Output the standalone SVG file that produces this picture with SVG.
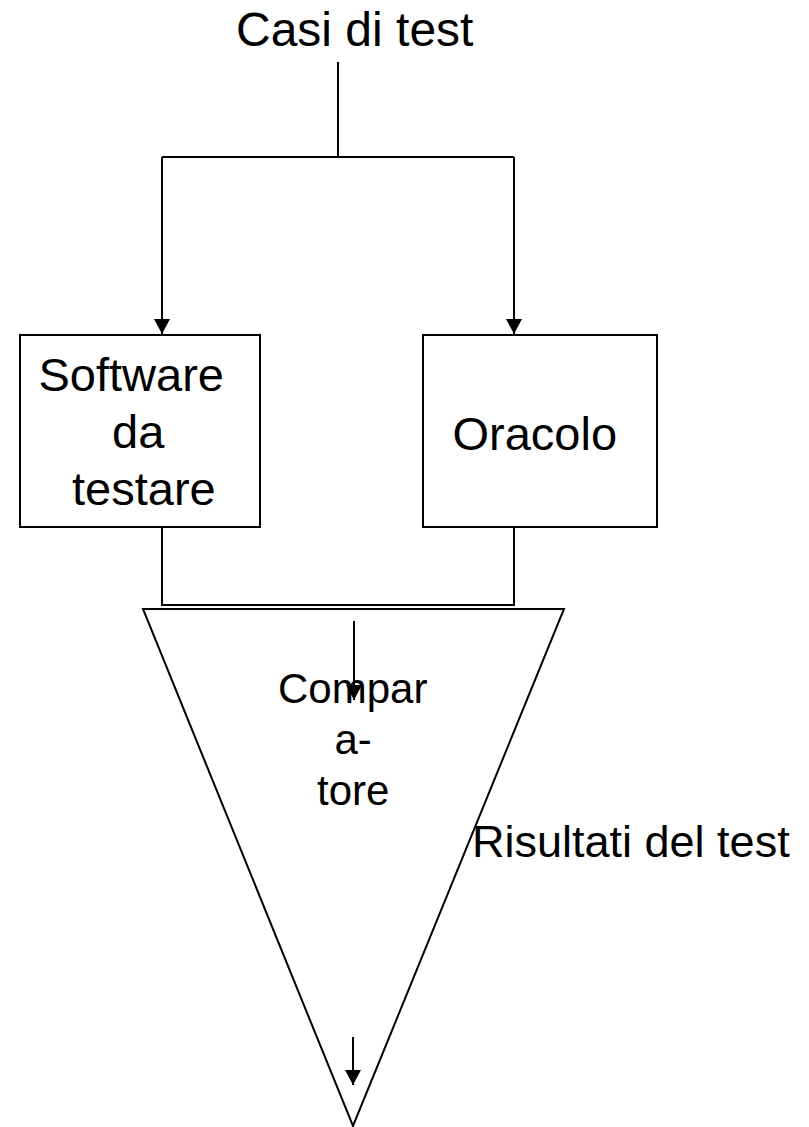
<svg xmlns="http://www.w3.org/2000/svg" width="809" height="1127" viewBox="0 0 809 1127">
<defs>
<style>
.ln{fill:none;stroke:#000;stroke-width:2}
.bx{fill:#fff;stroke:#000;stroke-width:2}
.t{font-family:"Liberation Sans",Arial,sans-serif;fill:#000}
</style>
<marker id="ah" markerUnits="userSpaceOnUse" markerWidth="16" markerHeight="16" viewBox="0 0 16 16" refX="15" refY="8" orient="auto">
<path d="M0,0 L15,8 L0,16 Z" fill="#000"/>
</marker>
</defs>
<g id="casi"><text class="t" x="236" y="46" font-size="48">Casi di test</text></g>
<g id="software">
<rect class="bx" x="20" y="335" width="240" height="192"/>
<text class="t" font-size="47" x="38.5" y="391">Software</text>
<text class="t" font-size="47" x="112" y="448">da</text>
<text class="t" font-size="47" x="72" y="505">testare</text>
</g>
<g id="oracolo">
<rect class="bx" x="423" y="335" width="234" height="192"/>
<text class="t" font-size="47" x="452.5" y="450">Oracolo</text>
</g>
<g id="comparatore">
<polygon class="ln" points="143,609 564,609 353,1126"/>
<text class="t" font-size="42" x="278" y="703">Compar</text>
<text class="t" font-size="42" x="334.5" y="754">a-</text>
<text class="t" font-size="42" x="317" y="805">tore</text>
</g>
<g id="risultati"><text class="t" font-size="45" x="472" y="857">Risultati del test</text></g>
<g id="connectors">
<polyline class="ln" points="338,62 338,157"/>
<polyline class="ln" points="162,157 514,157"/>
<polyline class="ln" points="162,157 162,334" marker-end="url(#ah)"/>
<polyline class="ln" points="514,157 514,334" marker-end="url(#ah)"/>
<polyline class="ln" points="162,527 162,605 514,605 514,527"/>
<polyline class="ln" points="354,621 354,700" marker-end="url(#ah)"/>
<polyline class="ln" points="353,1037 353,1085" marker-end="url(#ah)"/>
</g>
</svg>
